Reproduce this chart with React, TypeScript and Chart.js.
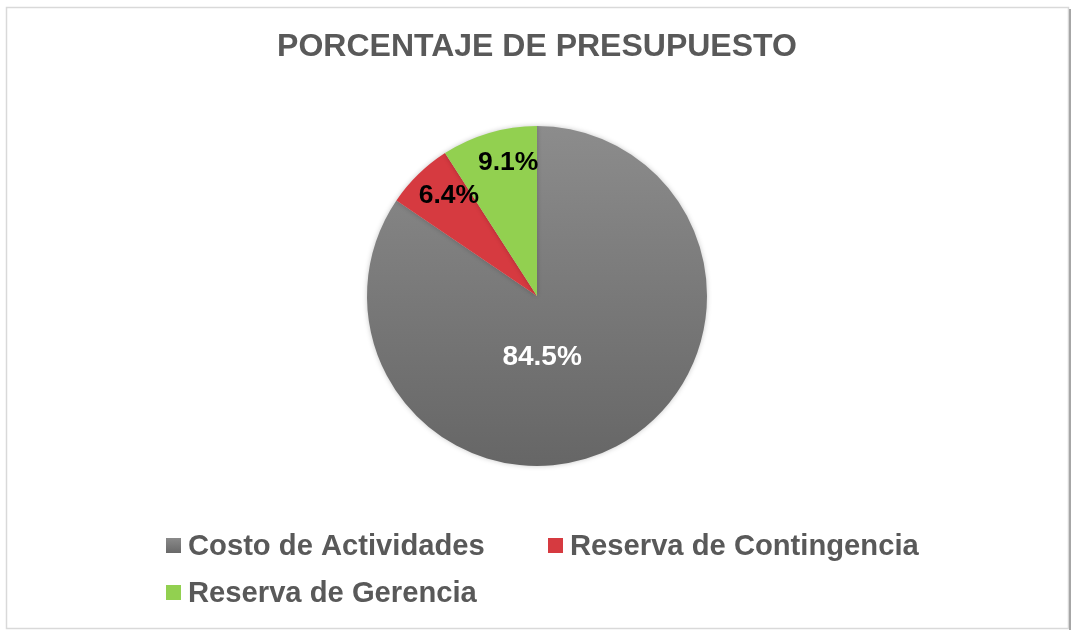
import React, { useEffect, useRef } from "react";
import { Chart, registerables } from "chart.js";

Chart.register(...registerables);

const categories = ["Costo de Actividades", "Reserva de Contingencia", "Reserva de Gerencia"];
const percentages = [84.5, 6.4, 9.1];
const valueLabels = ["84.5%", "6.4%", "9.1%"];
const titleText = "PORCENTAJE DE PRESUPUESTO";

const FONT = "'Liberation Sans', Arial, sans-serif";
const TEXT_GRAY = "#595959";
const RED = "#d63a40";
const GREEN = "#92d050";

// label placement per slice: [radius fraction, angle offset (deg) from slice middle]
const labelPlacement: [number, number][] = [
  [0.354, 23],
  [0.79, 3.3],
  [0.81, 4.3],
];
const labelColors = ["#ffffff", "#000000", "#000000"];
const labelSizes = [28, 26.5, 26.5];

const framePlugin = {
  id: "frame",
  beforeDraw(chart: any) {
    const ctx = chart.ctx;
    ctx.save();
    ctx.fillStyle = "#ffffff";
    ctx.fillRect(0, 0, chart.width, chart.height);
    ctx.strokeStyle = "#d9d9d9";
    ctx.lineWidth = 1.5;
    ctx.strokeRect(6.5, 7.5, 1062, 621);
    ctx.strokeStyle = "#a6a6a6";
    ctx.lineWidth = 2;
    ctx.beginPath();
    ctx.moveTo(1070, 9);
    ctx.lineTo(1070, 630);
    ctx.stroke();
    ctx.restore();
  },
};

const shadowPlugin = {
  id: "pieShadow",
  beforeDatasetsDraw(chart: any) {
    const ctx = chart.ctx;
    ctx.save();
    ctx.shadowColor = "rgba(0,0,0,0.22)";
    ctx.shadowBlur = 5;
    ctx.shadowOffsetX = 0;
    ctx.shadowOffsetY = 0;
  },
  afterDatasetsDraw(chart: any) {
    chart.ctx.restore();
  },
};

const textPlugin = {
  id: "texts",
  afterDraw(chart: any) {
    const ctx = chart.ctx;
    ctx.save();
    // title
    ctx.fillStyle = TEXT_GRAY;
    ctx.font = `bold 32px ${FONT}`;
    ctx.textAlign = "center";
    ctx.textBaseline = "middle";
    ctx.fillText(titleText, 537, 47);

    // data labels
    const meta = chart.getDatasetMeta(0);
    meta.data.forEach((arc: any, i: number) => {
      const p = arc.getProps(["x", "y", "startAngle", "endAngle", "outerRadius"], true);
      const mid = (p.startAngle + p.endAngle) / 2 + (labelPlacement[i][1] * Math.PI) / 180;
      const r = p.outerRadius * labelPlacement[i][0];
      const x = p.x + Math.cos(mid) * r;
      const y = p.y + Math.sin(mid) * r;
      ctx.font = `bold ${labelSizes[i]}px ${FONT}`;
      ctx.fillStyle = labelColors[i];
      ctx.textAlign = "center";
      ctx.textBaseline = "middle";
      ctx.fillText(valueLabels[i], x, y + 1);
    });

    // legend
    const legendPos: [number, number][] = [
      [166, 546],
      [548, 546],
      [166, 593],
    ];
    categories.forEach((c, i) => {
      const [lx, ly] = legendPos[i];
      let fill: any = [null, RED, GREEN][i];
      if (i === 0) {
        const g = ctx.createLinearGradient(0, ly - 8, 0, ly + 8);
        g.addColorStop(0, "#8a8a8a");
        g.addColorStop(1, "#666666");
        fill = g;
      }
      ctx.fillStyle = fill;
      ctx.fillRect(lx, ly - 8, 15, 15);
      ctx.fillStyle = TEXT_GRAY;
      ctx.font = `bold 29.2px ${FONT}`;
      ctx.textAlign = "left";
      ctx.textBaseline = "middle";
      ctx.fillText(c, lx + 22, ly + 1);
    });
    ctx.restore();
  },
};

export default function App() {
  const ref = useRef<HTMLCanvasElement | null>(null);
  useEffect(() => {
    document.body.style.margin = "0";
    const canvas = ref.current!;
    const chart = new Chart(canvas, {
      type: "pie",
      data: {
        labels: categories,
        datasets: [
          {
            data: percentages,
            backgroundColor: (ctx: any) => {
              const i = ctx.dataIndex;
              if (i === 0) {
                const area = ctx.chart.chartArea;
                if (!area) return "#7a7a7a";
                const g = ctx.chart.ctx.createLinearGradient(0, area.top, 0, area.bottom);
                g.addColorStop(0, "#8c8c8c");
                g.addColorStop(1, "#666666");
                return g;
              }
              return i === 1 ? RED : GREEN;
            },
            borderWidth: 0,
          },
        ],
      },
      options: {
        responsive: false,
        animation: false,
        layout: { padding: { top: 126, bottom: 164, left: 367, right: 366 } },
        plugins: {
          legend: { display: false },
          title: { display: false },
          tooltip: { enabled: false },
        },
      },
      plugins: [framePlugin, shadowPlugin, textPlugin],
    });
    return () => chart.destroy();
  }, []);
  return (
    <div style={{ position: "absolute", left: 0, top: 0, width: 1073, height: 630 }}>
      <canvas ref={ref} width={1073} height={630} style={{ display: "block" }} />
    </div>
  );
}
